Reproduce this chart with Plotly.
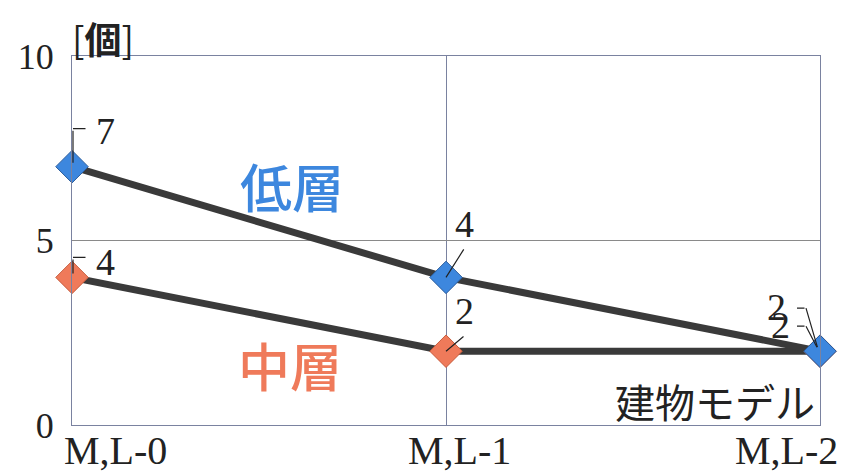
import plotly.graph_objects as go

categories = ["M,L-0", "M,L-1", "M,L-2"]
low_rise = [7, 4, 2]      # 低層
mid_rise = [4, 2, 2]      # 中層
y_ticks = [0, 5, 10]

x_idx = list(range(len(categories)))
SERIF = "Liberation Serif, Times New Roman, serif"
CJK = "Noto Sans CJK JP, sans-serif"
LINE = "#3a3a3a"

fig = go.Figure()
fig.add_trace(go.Scatter(
    x=x_idx, y=mid_rise, mode="lines+markers", cliponaxis=False,
    line=dict(color=LINE, width=7),
    marker=dict(symbol="diamond", size=25, color="#ef7a5a",
                line=dict(color="#c85c3c", width=1)),
    showlegend=False, hoverinfo="skip"))
fig.add_trace(go.Scatter(
    x=x_idx, y=low_rise, mode="lines+markers", cliponaxis=False,
    line=dict(color=LINE, width=7),
    marker=dict(symbol="diamond", size=25, color="#3d87de",
                line=dict(color="#2a5c9c", width=1)),
    showlegend=False, hoverinfo="skip"))

ann = []

def label(xi, yv, dx, dy):
    ann.append(dict(x=xi, y=yv, xref="x", yref="y", text=str(yv), showarrow=False,
                    xshift=dx, yshift=dy, xanchor="center", yanchor="middle",
                    font=dict(family=SERIF, size=38, color="#222")))

def seg(xi, yv, sx, sy, ex, ey):
    # line segment from (sx,sy) to (ex,ey) pixel offsets from the data point (y up)
    ann.append(dict(x=xi, y=yv, xref="x", yref="y", text=" ", showarrow=True,
                    xshift=sx, yshift=sy, ax=ex - sx, ay=-(ey - sy),
                    arrowhead=0, arrowwidth=1.2, arrowcolor="#222",
                    standoff=0, startstandoff=0, font=dict(size=1)))

# 低層 labels
label(0, low_rise[0], 33, 36); seg(0, low_rise[0], 1, 4, 1, 38); seg(0, low_rise[0], 1, 38, 15, 38)
label(1, low_rise[1], 18, 53); seg(1, low_rise[1], 0, 0, 19, 30)
label(2, low_rise[2], -44, 44); seg(2, low_rise[2], -23, 43, -14, 43); seg(2, low_rise[2], -14, 43, -2, 2)
# 中層 labels
label(0, mid_rise[0], 33, 15); seg(0, mid_rise[0], 1, 4, 1, 20); seg(0, mid_rise[0], 1, 20, 15, 20)
label(1, mid_rise[1], 18, 40); seg(1, mid_rise[1], 0, 0, 19, 16)
label(2, mid_rise[2], -40, 26); seg(2, mid_rise[2], -23, 25, -14, 25); seg(2, mid_rise[2], -14, 25, -2, 2)

# x category labels
x_anchor = ["left", "center", "right"]
x_shift = [-10, 13, 20]
for i, c in enumerate(categories):
    ann.append(dict(x=i, y=0, xref="x", yref="y", text=c, showarrow=False,
                    xanchor=x_anchor[i], yanchor="middle", xshift=x_shift[i], yshift=-25,
                    font=dict(family=SERIF, size=40, color="#222")))

ann += [
    dict(x=0.042, y=1.127, xref="paper", yref="paper", text="[<b>個</b>]", showarrow=False,
         xanchor="center", yanchor="top", font=dict(family=CJK, size=37, color="#222")),
    dict(x=0.294, y=0.65, xref="paper", yref="paper", text="低層", showarrow=False,
         xanchor="center", yanchor="middle",
         font=dict(family=CJK, size=52, color="#3d87de", weight=500)),
    dict(x=0.291, y=0.163, xref="paper", yref="paper", text="中層", showarrow=False,
         xanchor="center", yanchor="middle",
         font=dict(family=CJK, size=52, color="#ef7a5a", weight=500)),
    dict(x=0.996, y=0.065, xref="paper", yref="paper", text="建物モデル", showarrow=False,
         xanchor="right", yanchor="middle", font=dict(family=CJK, size=40, color="#222")),
]

# the page body adds an 8px margin, so the figure is 8px smaller and margins are shifted
fig.update_layout(
    width=850, height=468,
    margin=dict(l=64, r=38, t=48, b=51, autoexpand=False),
    paper_bgcolor="white", plot_bgcolor="white",
    annotations=ann,
    xaxis=dict(range=[0, 2], tickvals=x_idx, showticklabels=False, showgrid=True,
               gridcolor="#7a82a0", gridwidth=1, zeroline=False,
               showline=True, linecolor="#7a82a0", linewidth=1, mirror=True),
    yaxis=dict(range=[0, 10], tickvals=y_ticks, showgrid=True,
               gridcolor="#8a8a8a", gridwidth=1, zeroline=False,
               showline=True, linecolor="#7a82a0", linewidth=1, mirror=True,
               ticklabelstandoff=10,
               tickfont=dict(family=SERIF, size=36, color="#222")),
)

fig.write_html("out.html")
